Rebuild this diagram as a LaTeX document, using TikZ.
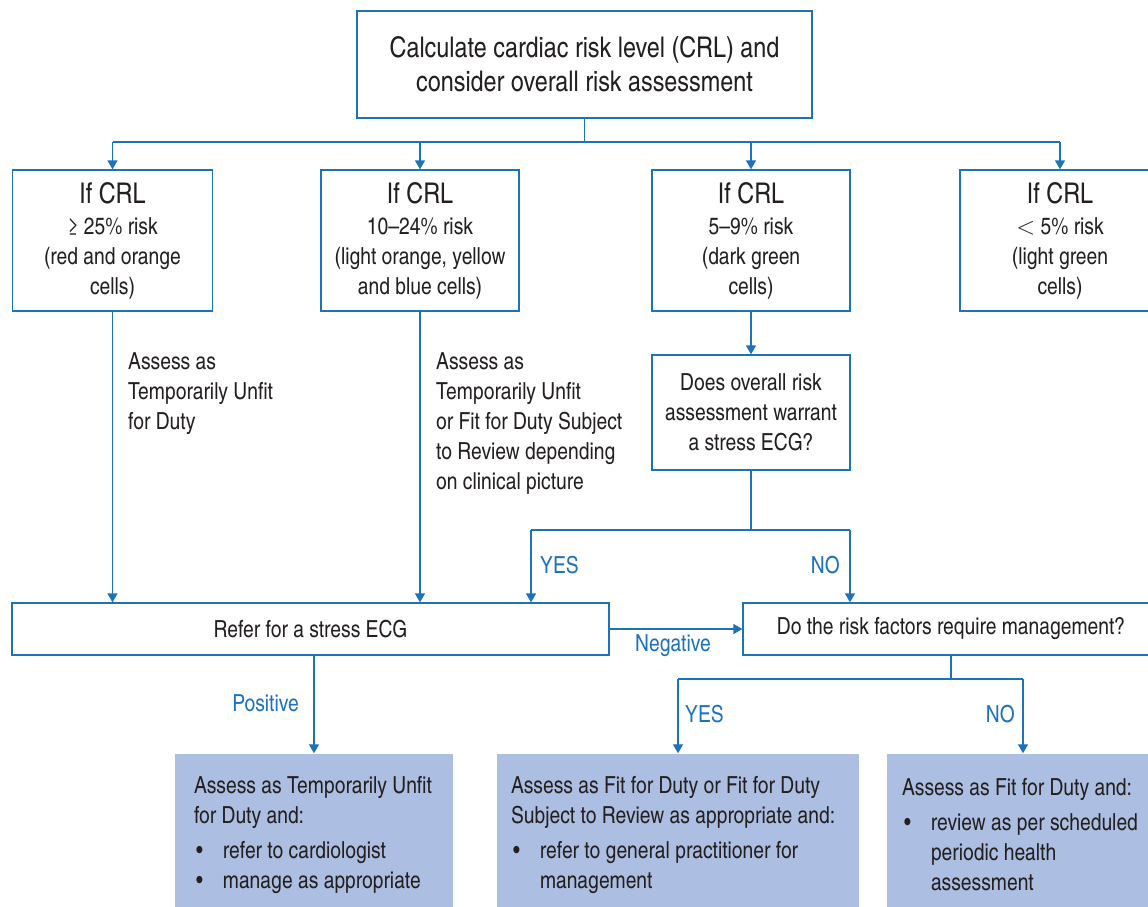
\documentclass[tikz,border=0pt]{standalone}
\usepackage{fontspec}
\setmainfont{TeX Gyre Heros Cn}
\usetikzlibrary{arrows.meta}

\definecolor{flowblue}{RGB}{30,114,186}
\definecolor{boxfill}{RGB}{172,190,225}
\definecolor{ink}{RGB}{35,31,32}

\newcommand\bodyfont{\fontsize{23.5}{30}\selectfont}
\newcommand\headfont{\fontsize{28.5}{34}\selectfont}
\newcommand\bul{\makebox[29pt][l]{\hspace*{2pt}\textbullet}}
\newcommand\indentline{\hspace*{29pt}}

\begin{document}
\begin{tikzpicture}[x=1pt,y=-1pt,
  stepbox/.style={draw=flowblue, line width=1.3pt, text=ink, align=center,
    inner sep=0pt, font=\bodyfont},
  resultbox/.style={fill=boxfill, inner sep=0pt, minimum height=163pt},
  resulttext/.style={text=ink, align=left, inner sep=0pt, font=\bodyfont,
    anchor=west},
  note/.style={text=ink, align=left, inner sep=0pt, font=\bodyfont},
  branch/.style={text=flowblue, inner sep=0pt, font=\bodyfont},
  wire/.style={draw=flowblue, line width=1.3pt},
  link/.style={draw=flowblue, line width=1.3pt, -{Triangle[width=10pt,length=9pt]}}]

\useasboundingbox (0,0) rectangle (1148,907);

% top box
\node[stepbox, font=\headfont, minimum width=455pt, minimum height=107pt]
  (top) at (584.5,64.5)
  {Calculate cardiac risk level (CRL) and\\consider overall risk assessment};

% risk level boxes
\node[stepbox, minimum width=200pt, minimum height=141pt] (c1) at (112.5,240.5)
  {{\headfont If CRL}\\[1pt]≥ 25\% risk\\(red and orange\\cells)};
\node[stepbox, minimum width=198pt, minimum height=141pt] (c2) at (420,240.5)
  {{\headfont If CRL}\\[1pt]10–24\% risk\\(light orange, yellow\\and blue cells)};
\node[stepbox, minimum width=198pt, minimum height=141pt] (c3) at (751,240.5)
  {{\headfont If CRL}\\[1pt]5–9\% risk\\(dark green\\cells)};
\node[stepbox, minimum width=200pt, minimum height=141pt] (c4) at (1060,240.5)
  {{\headfont If CRL}\\[1pt]$<$ 5\% risk\\(light green\\cells)};

% stress ECG question
\node[stepbox, minimum width=198pt, minimum height=115pt] (q) at (751,412.5)
  {Does overall risk\\assessment warrant\\a stress ECG?};

% notes beside the long arrows
\node[note, anchor=west] (n1) at (128,394)
  {Assess as\\Temporarily Unfit\\for Duty};
\node[note, anchor=west] (n2) at (436,423.5)
  {Assess as\\Temporarily Unfit\\or Fit for Duty Subject\\to Review depending\\on clinical picture};

% middle row
\node[stepbox, minimum width=597pt, minimum height=52pt] (refer) at (310.5,629)
  {Refer for a stress ECG};
\node[stepbox, minimum width=416pt, minimum height=52pt] (mgmt) at (951,629)
  {Do the risk factors require management?};

% outcome boxes
\node[resultbox, minimum width=278pt] (r1) at (314,835) {};
\node[resultbox, minimum width=362pt] (r2) at (678,835) {};
\node[resultbox, minimum width=272pt] (r3) at (1023,835) {};

\node[resulttext, xshift=19pt] (r1t) at (r1.west)
  {Assess as Temporarily Unfit\\for Duty and:\\[5pt]
   \bul refer to cardiologist\\\bul manage as appropriate};
\node[resulttext, xshift=14pt] (r2t) at (r2.west)
  {Assess as Fit for Duty or Fit for Duty\\Subject to Review as appropriate and:\\[5pt]
   \bul refer to general practitioner for\\\indentline management};
\node[resulttext, xshift=15pt] (r3t) at (r3.west)
  {Assess as Fit for Duty and:\\[5pt]
   \bul review as per scheduled\\\indentline periodic health\\\indentline assessment};

% fan-out from the top box
\coordinate (j1) at (584.5,142);
\draw[wire] (top.south) -- (j1);
\draw[wire] (c1.north |- j1) -- (c4.north |- j1);
\foreach \c in {c1,c2,c3,c4}
  \draw[link] (\c.north |- j1) -- (\c.north);

% long arrows to the stress ECG box
\draw[link] (c1.south) -- (c1.south |- refer.north);
\draw[link] (c2.south) -- (c2.south |- refer.north);
\draw[link] (c3.south) -- (q.north);

% yes / no split below the question
\coordinate (j2) at (751,530);
\coordinate (j2y) at (531,530);
\coordinate (j2n) at (850,530);
\draw[wire] (q.south) -- (j2);
\draw[wire] (j2y) -- (j2n);
\draw[link] (j2y) -- (j2y |- refer.north);
\draw[link] (j2n) -- (j2n |- mgmt.north);
\node[branch, anchor=west] (yes1) at (540,565) {YES};
\node[branch, anchor=east] (no1) at (840,565) {NO};

% negative result
\draw[link] (refer.east) -- (mgmt.west);
\node[branch] (neg) at (673,646) {Negative};

% positive result
\draw[link] (refer.south -| r1.north) -- (r1.north);
\node[branch, anchor=east] (pos) at (299,703) {Positive};

% risk factor management split
\coordinate (j3) at (951,679);
\draw[wire] (mgmt.south) -- (j3);
\draw[wire] (r2.north |- j3) -- (r3.north |- j3);
\draw[link] (r2.north |- j3) -- (r2.north);
\draw[link] (r3.north |- j3) -- (r3.north);
\node[branch, anchor=west] (yes2) at (685,714) {YES};
\node[branch, anchor=east] (no2) at (1015,714) {NO};

\end{tikzpicture}
\end{document}
